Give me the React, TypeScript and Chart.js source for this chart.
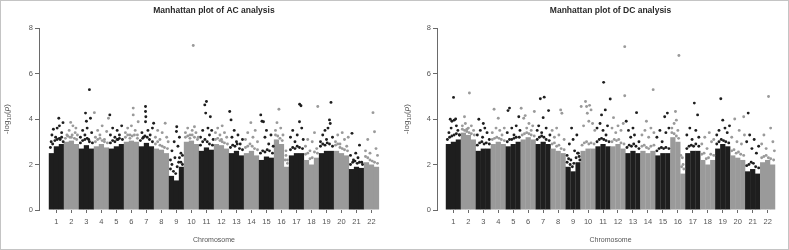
import React, { useEffect, useRef } from "react";
import { Chart, registerables } from "chart.js";

Chart.register(...registerables);

// ---------- data ----------
const chromosomes: number[] = [1, 2, 3, 4, 5, 6, 7, 8, 9, 10, 11, 12, 13, 14, 15, 16, 17, 18, 19, 20, 21, 22];
const yTicks: number[] = [0, 2, 4, 6, 8];

// dense bulk of -log10(p) per chromosome (left / middle / right third)
const acBulk: number[][] = [
  [2.5, 2.8, 2.9], [3.0, 3.05, 2.9], [2.7, 2.85, 2.7], [2.8, 2.9, 2.75], [2.7, 2.8, 2.9],
  [3.0, 3.05, 3.0], [2.8, 2.95, 2.8], [2.7, 2.65, 2.5], [1.5, 1.3, 1.9], [3.0, 3.05, 2.9],
  [2.6, 2.75, 2.65], [2.9, 2.85, 2.7], [2.5, 2.6, 2.4], [2.5, 2.6, 2.4], [2.2, 2.35, 2.3],
  [3.1, 2.9, 1.9], [2.4, 2.5, 2.5], [2.2, 2.0, 2.3], [2.5, 2.6, 2.6], [2.6, 2.5, 2.4],
  [1.8, 1.9, 1.85], [2.1, 2.0, 1.9],
];
const dcBulk: number[][] = [
  [2.9, 3.0, 3.1], [3.4, 3.3, 3.1], [2.6, 2.7, 2.7], [2.9, 3.0, 2.9], [2.8, 2.9, 3.0],
  [3.1, 3.2, 3.1], [2.9, 3.0, 2.9], [2.7, 2.6, 2.5], [1.9, 1.7, 2.1], [2.6, 2.7, 2.7],
  [2.8, 2.9, 2.8], [2.8, 2.9, 2.7], [2.5, 2.6, 2.5], [2.6, 2.5, 2.6], [2.4, 2.5, 2.5],
  [3.2, 3.0, 1.6], [2.5, 2.6, 2.6], [2.2, 2.0, 2.2], [2.7, 2.9, 2.8], [2.4, 2.3, 2.2],
  [1.7, 1.8, 1.6], [2.1, 2.2, 2.0],
];

// individual SNPs above the bulk: [chromosome position, -log10(p)]
const acPoints: number[][] = [
  [0.7, 3.3], [0.8, 3.55], [0.95, 3.2], [1.05, 3.6], [1.16, 4.03], [1.25, 3.1], [1.35, 3.4], [1.44, 3.84], [0.65, 3.0], [1.2, 3.7],
  [1.7, 3.3], [1.85, 3.5], [2.0, 3.2], [2.1, 3.7], [2.25, 3.4], [2.4, 3.3], [1.95, 3.85], [2.3, 3.6],
  [2.6, 3.2], [2.75, 3.5], [2.9, 3.3], [2.94, 4.26], [3.05, 3.6], [3.2, 5.29], [3.27, 4.03], [3.15, 3.1], [3.35, 3.4], [3.0, 3.9],
  [3.53, 4.28], [3.6, 3.2], [3.75, 3.5], [3.9, 3.3], [4.05, 3.7], [4.2, 3.1], [4.35, 3.45], [4.47, 4.03],
  [4.56, 4.18], [4.6, 3.3], [4.75, 3.6], [4.9, 3.2], [5.05, 3.5], [5.2, 3.3], [5.35, 3.7], [5.1, 3.1],
  [5.6, 3.4], [5.75, 3.6], [5.9, 3.3], [6.12, 4.48], [6.12, 4.18], [6.25, 3.5], [6.4, 3.3], [6.45, 3.88], [6.0, 3.7],
  [6.7, 3.4], [6.94, 4.55], [6.94, 4.33], [6.96, 4.1], [6.94, 3.88], [7.1, 3.5], [7.25, 3.3], [7.4, 3.6], [7.48, 3.81], [6.8, 3.2],
  [7.6, 3.2], [7.75, 3.5], [7.9, 3.1], [8.05, 3.4], [8.25, 3.81], [8.35, 3.2], [8.45, 3.0],
  [8.6, 2.2], [8.7, 2.6], [8.85, 3.0], [9.02, 3.66], [9.0, 3.45], [9.1, 2.8], [9.2, 3.2], [9.3, 2.5], [9.4, 2.0], [8.9, 2.3], [9.15, 2.1],
  [9.6, 3.4], [9.75, 3.6], [9.9, 3.3], [10.12, 7.23], [10.2, 3.66], [10.3, 3.4], [10.45, 3.2], [10.05, 3.5],
  [10.6, 3.2], [10.75, 3.5], [10.89, 4.62], [10.95, 4.26], [11.0, 4.77], [11.26, 4.1], [11.1, 3.6], [11.2, 3.3], [11.35, 3.5], [11.45, 3.1],
  [11.6, 3.4], [11.75, 3.6], [11.9, 3.3], [12.05, 3.7], [12.2, 3.4], [12.35, 3.2], [12.0, 3.1],
  [12.55, 4.33], [12.64, 3.96], [12.7, 3.2], [12.85, 3.5], [13.0, 3.0], [13.1, 3.3], [13.25, 2.9], [13.4, 3.1],
  [13.6, 3.1], [13.75, 3.4], [13.96, 3.84], [14.1, 3.2], [14.25, 3.5], [14.4, 3.0],
  [14.62, 4.18], [14.7, 3.9], [14.8, 3.88], [14.9, 3.2], [15.0, 3.5], [15.15, 2.9], [15.3, 3.3], [15.45, 2.8],
  [15.6, 3.5], [15.83, 4.43], [15.7, 3.84], [15.95, 3.6], [16.1, 3.3], [16.3, 2.4], [16.4, 2.2],
  [16.6, 3.2], [16.75, 3.5], [16.9, 3.0], [17.05, 3.3], [17.21, 4.65], [17.3, 4.58], [17.2, 3.88], [17.35, 3.6], [17.45, 3.1],
  [17.6, 2.8], [17.75, 3.1], [17.9, 2.6], [18.05, 3.0], [18.2, 3.4], [18.42, 4.55], [18.35, 2.7],
  [18.6, 3.0], [18.75, 3.3], [18.9, 3.5], [19.0, 3.1], [19.1, 3.6], [19.2, 3.96], [19.3, 4.73], [19.25, 3.8], [19.4, 3.2],
  [19.6, 3.0], [19.75, 3.3], [19.9, 2.9], [20.05, 3.4], [20.2, 3.1], [20.35, 2.8], [20.45, 3.2],
  [20.6, 2.4], [20.7, 3.37], [20.8, 2.2], [20.95, 2.5], [21.1, 2.3], [21.2, 2.85], [21.35, 2.1],
  [21.6, 2.6], [21.75, 3.1], [21.9, 2.5], [22.1, 4.28], [22.2, 3.44], [22.3, 2.7], [22.4, 2.4],
];
// dense fringe just above the AC bulk
const acFringe: number[][] = [
  [0.6, 2.75], [0.75, 2.9], [0.9, 3.05], [1.05, 3.1], [1.2, 3.15], [1.35, 3.2], [1.45, 3.0],
  [1.6, 3.15], [1.75, 3.25], [1.9, 3.2], [2.05, 3.3], [2.2, 3.15], [2.35, 3.1],
  [2.6, 2.95], [2.75, 3.05], [2.9, 3.1], [3.05, 3.15], [3.2, 3.0], [3.4, 2.95],
  [3.6, 3.0], [3.75, 3.1], [3.9, 3.15], [4.05, 3.05], [4.2, 3.0], [4.4, 2.95],
  [4.6, 2.95], [4.75, 3.05], [4.9, 3.0], [5.05, 3.1], [5.2, 3.15], [5.4, 3.1],
  [5.6, 3.2], [5.75, 3.3], [5.9, 3.15], [6.05, 3.25], [6.2, 3.3], [6.4, 3.15],
  [6.6, 3.05], [6.75, 3.15], [6.9, 3.25], [7.05, 3.2], [7.2, 3.1], [7.4, 3.0],
  [7.6, 2.9], [7.75, 3.0], [7.9, 2.85], [8.05, 2.8], [8.2, 2.75], [8.4, 2.7],
  [8.6, 1.8], [8.7, 2.0], [8.8, 1.7], [8.95, 1.6], [9.05, 1.9], [9.2, 2.3], [9.3, 2.1], [9.4, 2.4],
  [9.6, 3.2], [9.75, 3.25], [9.9, 3.15], [10.05, 3.3], [10.2, 3.2], [10.4, 3.1],
  [10.6, 2.85], [10.75, 3.0], [10.9, 3.1], [11.05, 3.0], [11.2, 2.9], [11.4, 2.85],
  [11.6, 3.1], [11.75, 3.15], [11.9, 3.05], [12.05, 3.0], [12.2, 2.95], [12.4, 2.9],
  [12.6, 2.75], [12.75, 2.85], [12.9, 2.8], [13.05, 2.9], [13.2, 2.7], [13.4, 2.65],
  [13.6, 2.75], [13.75, 2.8], [13.9, 2.9], [14.05, 2.8], [14.2, 2.7], [14.4, 2.65],
  [14.6, 2.5], [14.75, 2.6], [14.9, 2.55], [15.05, 2.65], [15.2, 2.6], [15.4, 2.5],
  [15.6, 3.3], [15.75, 3.25], [15.9, 3.15], [16.05, 3.05], [16.25, 2.2], [16.4, 2.05], [16.3, 2.6],
  [16.6, 2.65], [16.75, 2.75], [16.9, 2.7], [17.05, 2.8], [17.2, 2.75], [17.4, 2.7],
  [17.6, 2.45], [17.75, 2.5], [17.9, 2.25], [18.05, 2.3], [18.2, 2.55], [18.4, 2.5],
  [18.6, 2.8], [18.75, 2.9], [18.9, 2.85], [19.05, 2.95], [19.2, 2.9], [19.4, 2.8],
  [19.6, 2.85], [19.75, 2.9], [19.9, 2.75], [20.05, 2.7], [20.2, 2.65], [20.4, 2.6],
  [20.6, 2.0], [20.75, 2.1], [20.9, 2.15], [21.05, 2.05], [21.2, 2.1], [21.4, 2.0],
  [21.6, 2.35], [21.75, 2.3], [21.9, 2.2], [22.05, 2.15], [22.2, 2.1], [22.4, 2.05],
];
const dcPoints: number[][] = [
  [0.79, 3.99], [0.9, 3.9], [1.01, 4.95], [1.05, 3.95], [1.15, 4.0], [1.2, 3.7], [0.7, 3.4], [0.85, 3.6], [1.3, 3.5], [1.4, 3.3],
  [1.74, 4.1], [2.07, 5.14], [1.6, 3.7], [1.8, 3.8], [2.0, 3.6], [2.2, 3.7], [2.35, 3.5], [1.9, 3.55],
  [2.7, 3.99], [2.6, 3.3], [2.8, 3.5], [2.95, 3.2], [3.1, 3.6], [3.25, 3.4], [3.4, 3.1], [3.0, 3.8],
  [3.72, 4.43], [4.0, 4.03], [3.6, 3.4], [3.85, 3.6], [4.1, 3.5], [4.25, 3.3], [4.4, 3.6],
  [4.65, 4.37], [4.75, 4.48], [5.37, 4.1], [4.6, 3.4], [4.9, 3.6], [5.05, 3.3], [5.2, 3.7], [5.45, 3.5],
  [5.53, 4.47], [5.7, 4.03], [5.8, 4.15], [6.41, 4.33], [5.9, 3.6], [6.05, 3.8], [6.2, 3.5], [6.3, 3.7],
  [6.81, 4.89], [7.07, 4.96], [7.36, 4.37], [7.0, 4.06], [6.6, 3.5], [6.7, 3.7], [6.9, 3.4], [7.2, 3.6], [7.45, 3.3],
  [8.17, 4.4], [8.25, 4.25], [7.6, 3.5], [7.75, 3.2], [7.9, 3.6], [8.05, 3.3], [8.4, 3.1],
  [8.6, 2.4], [8.75, 2.9], [8.9, 3.6], [9.0, 3.1], [9.1, 2.6], [9.25, 3.3], [9.35, 2.5], [9.45, 2.2], [8.85, 2.2],
  [9.54, 4.55], [9.83, 4.77], [9.9, 4.55], [10.1, 4.6], [10.2, 4.4], [9.95, 4.25], [9.7, 3.7], [10.3, 3.8], [10.45, 3.5], [10.05, 3.9],
  [11.04, 5.61], [11.15, 4.4], [10.9, 4.18], [11.48, 4.88], [10.6, 3.6], [10.8, 3.8], [11.0, 3.5], [11.3, 3.7], [11.2, 3.3],
  [11.7, 4.06], [12.45, 7.18], [12.45, 5.02], [11.6, 3.6], [11.85, 3.4], [12.0, 3.7], [12.2, 3.5], [12.35, 3.8],
  [12.55, 3.9], [13.24, 4.28], [12.7, 3.5], [12.85, 3.2], [13.0, 3.6], [13.1, 3.3], [13.4, 3.0],
  [14.35, 5.29], [13.9, 3.9], [13.6, 3.3], [13.8, 3.5], [14.05, 3.2], [14.2, 3.6], [14.4, 3.4],
  [15.12, 4.1], [15.3, 4.26], [14.6, 3.2], [14.8, 3.5], [14.95, 3.0], [15.2, 3.4], [15.4, 3.6],
  [15.84, 4.33], [15.9, 3.95], [16.07, 6.79], [15.6, 3.6], [15.75, 3.8], [16.0, 3.5], [16.2, 2.4], [16.35, 2.0],
  [17.1, 4.7], [17.32, 4.18], [16.6, 3.3], [16.8, 3.6], [16.95, 3.1], [17.2, 3.5], [17.4, 3.2],
  [17.6, 2.9], [17.8, 3.2], [17.95, 2.7], [18.1, 3.4], [18.25, 3.0], [18.4, 3.1],
  [18.87, 4.89], [19.0, 3.95], [18.6, 3.3], [18.75, 3.5], [19.15, 3.6], [19.3, 3.4], [19.45, 3.7],
  [19.8, 4.0], [20.4, 4.1], [19.6, 3.2], [19.95, 3.0], [20.1, 3.5], [20.25, 2.9], [20.45, 3.3],
  [20.7, 4.26], [20.6, 3.0], [20.8, 3.3], [20.95, 2.7], [21.1, 3.1], [21.25, 2.5], [21.4, 2.8],
  [22.06, 4.99], [21.6, 2.9], [21.75, 3.3], [21.9, 2.7], [22.2, 3.6], [22.35, 3.0], [22.45, 2.6],
];
// dense fringe just above the DC bulk
const dcFringe: number[][] = [
  [0.6, 3.1], [0.75, 3.2], [0.9, 3.25], [1.05, 3.3], [1.2, 3.35], [1.4, 3.3],
  [1.6, 3.55], [1.75, 3.5], [1.9, 3.45], [2.05, 3.4], [2.2, 3.35], [2.4, 3.3],
  [2.6, 2.85], [2.75, 2.95], [2.9, 3.0], [3.05, 2.9], [3.2, 2.95], [3.4, 2.9],
  [3.6, 3.1], [3.75, 3.15], [3.9, 3.2], [4.05, 3.15], [4.2, 3.1], [4.4, 3.05],
  [4.6, 3.0], [4.75, 3.1], [4.9, 3.1], [5.05, 3.15], [5.2, 3.2], [5.4, 3.2],
  [5.6, 3.3], [5.75, 3.35], [5.9, 3.4], [6.05, 3.35], [6.2, 3.3], [6.4, 3.25],
  [6.6, 3.1], [6.75, 3.2], [6.9, 3.25], [7.05, 3.2], [7.2, 3.1], [7.4, 3.05],
  [7.6, 2.9], [7.75, 2.95], [7.9, 2.8], [8.05, 2.85], [8.2, 2.7], [8.4, 2.65],
  [8.6, 2.1], [8.7, 2.25], [8.8, 2.0], [8.95, 1.9], [9.05, 2.05], [9.2, 2.3], [9.3, 2.5], [9.4, 2.35],
  [9.6, 2.85], [9.75, 2.95], [9.9, 3.0], [10.05, 2.9], [10.2, 2.95], [10.4, 2.9],
  [10.6, 3.0], [10.75, 3.1], [10.9, 3.15], [11.05, 3.1], [11.2, 3.05], [11.4, 3.0],
  [11.6, 3.0], [11.75, 3.1], [11.9, 3.05], [12.05, 3.1], [12.2, 2.95], [12.4, 2.9],
  [12.6, 2.75], [12.75, 2.85], [12.9, 2.8], [13.05, 2.9], [13.2, 2.8], [13.4, 2.7],
  [13.6, 2.8], [13.75, 2.85], [13.9, 2.75], [14.05, 2.7], [14.2, 2.8], [14.4, 2.85],
  [14.6, 2.6], [14.75, 2.7], [14.9, 2.75], [15.05, 2.7], [15.2, 2.75], [15.4, 2.7],
  [15.6, 3.4], [15.75, 3.35], [15.9, 3.25], [16.05, 3.15], [16.25, 1.9], [16.4, 1.8], [16.3, 2.3],
  [16.6, 2.7], [16.75, 2.8], [16.9, 2.85], [17.05, 2.8], [17.2, 2.9], [17.4, 2.8],
  [17.6, 2.45], [17.75, 2.5], [17.9, 2.25], [18.05, 2.3], [18.2, 2.45], [18.4, 2.4],
  [18.6, 2.9], [18.75, 3.0], [18.9, 3.1], [19.05, 3.05], [19.2, 3.0], [19.4, 2.95],
  [19.6, 2.6], [19.75, 2.65], [19.9, 2.5], [20.05, 2.55], [20.2, 2.45], [20.4, 2.4],
  [20.6, 1.95], [20.75, 2.0], [20.9, 2.1], [21.05, 2.05], [21.2, 1.9], [21.4, 1.85],
  [21.6, 2.3], [21.75, 2.35], [21.9, 2.4], [22.05, 2.3], [22.2, 2.25], [22.4, 2.2],
];

// ---------- styling ----------
const BLACK = "#1e1e1e";
const GREY = "#9a9a9a";
const AXIS = "#6a6a6a";
const TEXT = "#555555";
const FONT = "'Liberation Sans', Arial, Helvetica, sans-serif";

const colorFor = (chr: number) => (chr % 2 === 1 ? BLACK : GREY);

function bulkData(bulk: number[][]) {
  const data: { x: number; y: number }[] = [];
  const colors: string[] = [];
  bulk.forEach((seg, i) => {
    const chr = chromosomes[i];
    seg.forEach((h, j) => {
      data.push({ x: chr - 1 / 3 + j / 3, y: h });
      colors.push(colorFor(chr));
    });
  });
  return { data, colors };
}

function pointData(points: number[][], odd: boolean) {
  return points
    .filter((p) => (Math.round(p[0]) % 2 === 1) === odd)
    .map((p) => ({ x: p[0], y: p[1] }));
}

function textPlugin(title: string, yTitleX: number) {
  return {
    id: "panelText",
    afterDraw(chart: any) {
      const { ctx } = chart;
      const xs = chart.scales.x;
      const ys = chart.scales.y;
      const cx = xs.getPixelForValue(11.5);
      ctx.save();
      ctx.textAlign = "center";
      ctx.textBaseline = "middle";
      ctx.fillStyle = "#2a2a2a";
      ctx.font = `bold 8.5px ${FONT}`;
      ctx.fillText(title, cx, 11);
      ctx.fillStyle = TEXT;
      ctx.font = `7px ${FONT}`;
      ctx.fillText("Chromosome", cx, 240);

      // y title: -log10(p)
      const cy = ys.getPixelForValue(4);
      const main = `8px ${FONT}`;
      const sub = `6px ${FONT}`;
      const ital = `italic 8px ${FONT}`;
      ctx.font = main;
      const w1 = ctx.measureText("-log").width;
      ctx.font = sub;
      const w2 = ctx.measureText("10").width;
      ctx.font = main;
      const w3 = ctx.measureText("(").width;
      ctx.font = ital;
      const w4 = ctx.measureText("p").width;
      ctx.font = main;
      const w5 = ctx.measureText(")").width;
      const total = w1 + w2 + w3 + w4 + w5;
      ctx.translate(yTitleX, cy);
      ctx.rotate(-Math.PI / 2);
      ctx.textAlign = "left";
      let px = -total / 2;
      ctx.font = main;
      ctx.fillText("-log", px, 0);
      px += w1;
      ctx.font = sub;
      ctx.fillText("10", px, 2);
      px += w2;
      ctx.font = main;
      ctx.fillText("(", px, 0);
      px += w3;
      ctx.font = ital;
      ctx.fillText("p", px, 0);
      px += w4;
      ctx.font = main;
      ctx.fillText(")", px, 0);
      ctx.restore();
    },
  };
}

type PanelProps = {
  title: string;
  bulk: number[][];
  points: number[][];
  left: number;
  width: number;
  yAxisWidth: number;
  xMin: number;
  xMax: number;
  yTitleX: number;
};

function Panel(props: PanelProps) {
  const ref = useRef<HTMLCanvasElement>(null);
  useEffect(() => {
    const { data, colors } = bulkData(props.bulk);
    const chart = new Chart(ref.current as HTMLCanvasElement, {
      type: "bar",
      data: {
        datasets: [
          {
            type: "scatter",
            data: pointData(props.points, false),
            pointRadius: 1.45,
            pointBorderWidth: 0,
            pointBackgroundColor: GREY,
            order: 1,
          } as any,
          {
            type: "scatter",
            data: pointData(props.points, true),
            pointRadius: 1.45,
            pointBorderWidth: 0,
            pointBackgroundColor: BLACK,
            order: 1,
          } as any,
          {
            type: "bar",
            data,
            backgroundColor: colors,
            borderWidth: 0,
            categoryPercentage: 1,
            barPercentage: 1.05,
            order: 2,
          } as any,
        ],
      },
      options: {
        animation: false,
        responsive: false,
        maintainAspectRatio: false,
        layout: { padding: { top: 28, left: 0, right: 0, bottom: 0 } },
        plugins: {
          legend: { display: false },
          tooltip: { enabled: false },
          title: { display: false },
        },
        scales: {
          x: {
            type: "linear",
            min: props.xMin,
            max: props.xMax,
            offset: false,
            afterBuildTicks: (s: any) => {
              s.ticks = chromosomes.map((v) => ({ value: v }));
            },
            afterFit: (s: any) => {
              s.height = 40;
            },
            grid: { offset: false, drawOnChartArea: false, drawTicks: true, tickLength: 3, color: AXIS },
            border: { display: false },
            ticks: {
              autoSkip: false,
              maxRotation: 0,
              padding: 4,
              color: TEXT,
              font: { size: 7.5, family: FONT },
              callback: (v: any) => String(v),
            },
          },
          y: {
            min: 0,
            max: 8,
            afterBuildTicks: (s: any) => {
              s.ticks = yTicks.map((v) => ({ value: v }));
            },
            afterFit: (s: any) => {
              s.width = props.yAxisWidth;
            },
            grid: { drawOnChartArea: false, drawTicks: true, tickLength: 4, color: AXIS },
            border: { display: true, color: AXIS, width: 1 },
            ticks: {
              padding: 2,
              color: TEXT,
              font: { size: 7.5, family: FONT },
            },
          },
        } as any,
      },
      plugins: [textPlugin(props.title, props.yTitleX)],
    });
    return () => chart.destroy();
  }, []);
  return (
    <canvas
      ref={ref}
      width={props.width}
      height={250}
      style={{ position: "absolute", left: props.left, top: 0, width: props.width, height: 250 }}
    />
  );
}

export default function App() {
  return (
    <div style={{ position: "fixed", left: 0, top: 0, width: 789, height: 250, background: "#fff", overflow: "hidden" }}>
      <Panel
        title="Manhattan plot of AC analysis"
        bulk={acBulk}
        points={acPoints.concat(acFringe)}
        left={0}
        width={389}
        yAxisWidth={39}
        xMin={-0.16}
        xMax={22.9}
        yTitleX={7}
      />
      <Panel
        title="Manhattan plot of DC analysis"
        bulk={dcBulk}
        points={dcPoints.concat(dcFringe)}
        left={389}
        width={400}
        yAxisWidth={48}
        xMin={-0.095}
        xMax={23.16}
        yTitleX={18}
      />
      <div
        style={{
          position: "absolute",
          left: 0,
          top: 0,
          width: 789,
          height: 250,
          boxSizing: "border-box",
          border: "1px solid #c4c4c4",
          pointerEvents: "none",
        }}
      />
    </div>
  );
}
